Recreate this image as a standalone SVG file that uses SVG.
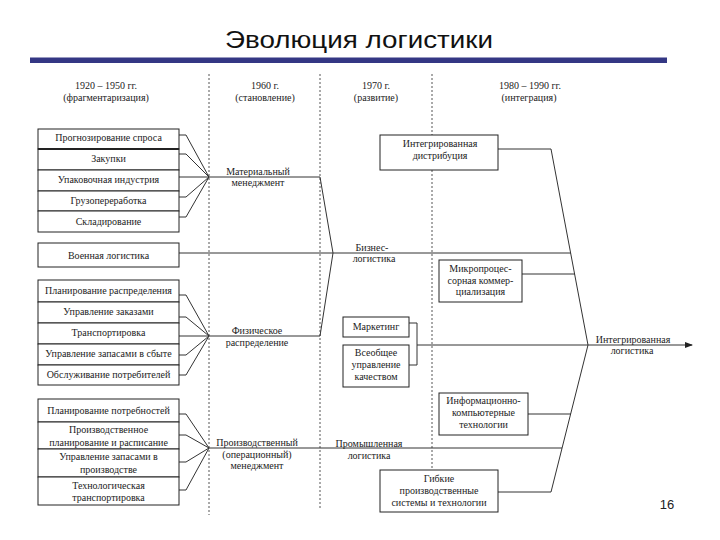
<svg xmlns="http://www.w3.org/2000/svg" width="720" height="540" viewBox="0 0 720 540">
<defs>
<style>
.t{font-family:"Liberation Serif","Times New Roman",serif;font-size:10px;fill:#222;text-anchor:middle}
.box{fill:#fff;stroke:#222;stroke-width:1}
.ln{fill:none;stroke:#333;stroke-width:1}
.guide{fill:none;stroke:#555;stroke-width:1;stroke-dasharray:2,2}
</style>
<marker id="arr" viewBox="0 0 8 6" refX="7" refY="3" markerWidth="8" markerHeight="6" markerUnits="userSpaceOnUse" orient="auto">
<path d="M0,0 L8,3 L0,6 Z" fill="#222"/>
</marker>
</defs>
<rect width="720" height="540" fill="#fff"/>
<g id="title">
<text x="359" y="47.5" font-family="Liberation Sans, Arial, sans-serif" font-size="23" fill="#111" text-anchor="middle" textLength="268" lengthAdjust="spacingAndGlyphs">Эволюция логистики</text>
<rect x="30" y="57.5" width="637" height="5.5" fill="#343784"/>
</g>
<g id="headers">
<text class="t" x="106" y="89">1920 – 1950 гг.</text>
<text class="t" x="106" y="101">(фрагментаризация)</text>
<text class="t" x="265" y="89">1960 г.</text>
<text class="t" x="265" y="101">(становление)</text>
<text class="t" x="376" y="89">1970 г.</text>
<text class="t" x="376" y="101">(развитие)</text>
<text class="t" x="530" y="89">1980 – 1990 гг.</text>
<text class="t" x="529" y="101">(интеграция)</text>
</g>
<g id="guides">
<line class="guide" x1="209" y1="74" x2="209" y2="515"/>
<line class="guide" x1="320" y1="74" x2="320" y2="508"/>
<line class="guide" x1="432" y1="74" x2="432" y2="505"/>
</g>
<g id="connectors">
<path class="ln" d="M179,135 H186 L209,177"/>
<path class="ln" d="M179,154 H186 L209,177"/>
<path class="ln" d="M179,177 H320 L333,253"/>
<path class="ln" d="M179,197 H186 L209,177" stroke-width="1.3"/>
<path class="ln" d="M179,217 H186 L209,177"/>
<path class="ln" d="M179,253 H571"/>
<path class="ln" d="M179,295 H186 L209,336"/>
<path class="ln" d="M179,317 H186 L209,336"/>
<path class="ln" d="M179,336 H320 L333,253"/>
<path class="ln" d="M179,355 H186 L209,336"/>
<path class="ln" d="M179,375 H186 L209,336"/>
<path class="ln" d="M179,414 H186 L209,448"/>
<path class="ln" d="M179,435 H186 L209,448"/>
<path class="ln" d="M179,462 H186 L209,448"/>
<path class="ln" d="M179,490 H186 L209,448"/>
<path class="ln" d="M209,448 H562"/>
<path class="ln" d="M498,149 H551 L588,345 L551,492 H498" stroke-width="1.2"/>
<path class="ln" d="M522,274 H575"/>
<path class="ln" d="M528,414 H571"/>
<path class="ln" d="M409,323 H417 V365 H409"/>
<path class="ln" d="M417,345 H692" marker-end="url(#arr)"/>
</g>
<g id="labels">
<text class="t" x="258" y="175">Материальный</text>
<text class="t" x="258" y="186">менеджмент</text>
<text class="t" x="372" y="250.5">Бизнес-</text>
<text class="t" x="374" y="262">логистика</text>
<text class="t" x="257" y="334">Физическое</text>
<text class="t" x="257" y="346">распределение</text>
<text class="t" x="257" y="446">Производственный</text>
<text class="t" x="257" y="458">(операционный)</text>
<text class="t" x="257" y="469">менеджмент</text>
<text class="t" x="369" y="447">Промышленная</text>
<text class="t" x="369" y="458.5">логистика</text>
<text class="t" x="633" y="342.5">Интегрированная</text>
<text class="t" x="632" y="354">логистика</text>
</g>
<g id="n-prognoz"><rect class="box" x="38" y="129" width="141" height="20"/><text class="t" x="108.5" y="140.5">Прогнозирование спроса</text></g>
<g id="n-zakupki"><rect class="box" x="38" y="149" width="141" height="21"/><text class="t" x="108.5" y="161.5">Закупки</text></g>
<g id="n-upakovka"><rect class="box" x="38" y="170" width="141" height="21"/><text class="t" x="108.5" y="182.5">Упаковочная индустрия</text></g>
<g id="n-gruzopererabotka"><rect class="box" x="38" y="191" width="141" height="20"/><text class="t" x="108.5" y="203.5">Грузопереработка</text></g>
<g id="n-skladirovanie"><rect class="box" x="38" y="211" width="141" height="21"/><text class="t" x="108.5" y="224.5">Складирование</text></g>
<line x1="38" y1="149" x2="179" y2="149" stroke="#222" stroke-width="2"/>
<g id="n-voennaya"><rect class="box" x="38" y="243" width="141" height="24"/><text class="t" x="108.5" y="258.5">Военная логистика</text></g>
<g id="n-plan-raspr"><rect class="box" x="38" y="280" width="141" height="22"/><text class="t" x="108.5" y="293.5">Планирование распределения</text></g>
<g id="n-upr-zakaz"><rect class="box" x="38" y="302" width="141" height="21"/><text class="t" x="108.5" y="315">Управление заказами</text></g>
<g id="n-transport"><rect class="box" x="38" y="323" width="141" height="21"/><text class="t" x="108.5" y="336">Транспортировка</text></g>
<g id="n-zapasy-sbyt"><rect class="box" x="38" y="344" width="141" height="21"/><text class="t" x="108.5" y="357">Управление запасами в сбыте</text></g>
<g id="n-obsluzh"><rect class="box" x="38" y="365" width="141" height="20"/><text class="t" x="108.5" y="377.5">Обслуживание потребителей</text></g>
<g id="n-plan-potr"><rect class="box" x="38" y="399" width="141" height="23"/><text class="t" x="108.5" y="413.5">Планирование потребностей</text></g>
<g id="n-proizv-plan"><rect class="box" x="38" y="422" width="141" height="27"/><text class="t" x="108.5" y="433">Производственное</text><text class="t" x="108.5" y="445.5">планирование и расписание</text></g>
<g id="n-zapasy-proizv"><rect class="box" x="38" y="449" width="141" height="28"/><text class="t" x="108.5" y="460">Управление запасами в</text><text class="t" x="108.5" y="472.5">производстве</text></g>
<g id="n-tehn-transport"><rect class="box" x="38" y="477" width="141" height="28"/><text class="t" x="108.5" y="488.5">Технологическая</text><text class="t" x="108.5" y="500.5">транспортировка</text></g>
<g id="n-integr-distr"><rect class="box" x="380" y="135" width="118" height="35"/><text class="t" x="440" y="147">Интегрированная</text><text class="t" x="440" y="158.5">дистрибуция</text></g>
<g id="n-mikro"><rect class="box" x="439" y="260" width="83" height="42"/><text class="t" x="480.5" y="272">Микропроцес-</text><text class="t" x="480.5" y="283.5">сорная коммер-</text><text class="t" x="480.5" y="295">циализация</text></g>
<g id="n-marketing"><rect class="box" x="343" y="317" width="66" height="20"/><text class="t" x="376" y="330">Маркетинг</text></g>
<g id="n-tqm"><rect class="box" x="343" y="345" width="66" height="42"/><text class="t" x="376" y="355.5">Всеобщее</text><text class="t" x="376" y="367.5">управление</text><text class="t" x="376" y="379.5">качеством</text></g>
<g id="n-info"><rect class="box" x="439" y="393" width="89" height="42"/><text class="t" x="483.5" y="404">Информационно-</text><text class="t" x="483.5" y="416">компьютерные</text><text class="t" x="483.5" y="428">технологии</text></g>
<g id="n-gibkie"><rect class="box" x="380" y="470" width="118" height="42"/><text class="t" x="439" y="481.5">Гибкие</text><text class="t" x="439" y="494">производственные</text><text class="t" x="439" y="505.5">системы и технологии</text></g>
<text x="667" y="509" font-family="Liberation Sans, Arial, sans-serif" font-size="13" fill="#222" text-anchor="middle">16</text>
</svg>
